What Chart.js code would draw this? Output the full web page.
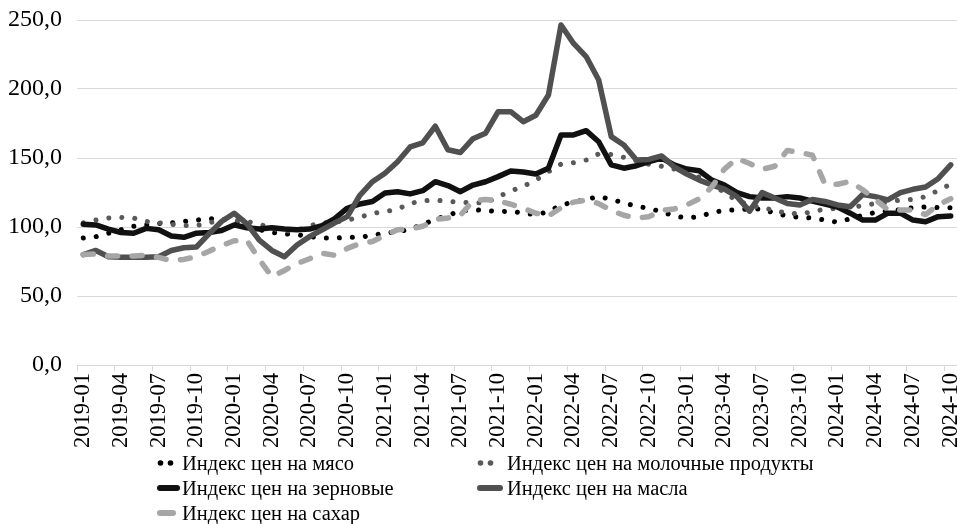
<!DOCTYPE html>
<html>
<head>
<meta charset="utf-8">
<script src="https://cdn.jsdelivr.net/npm/chart.js@4"></script>
<style>
  html, body { margin: 0; padding: 0; background: #fff; }
  body { width: 957px; height: 524px; overflow: hidden; position: relative; }
  #c { position: absolute; left: 0; top: 0; }
  .lg { position: absolute; font-family: "Liberation Serif", "Times New Roman", serif; font-size: 20.5px; color: #000; white-space: nowrap; line-height: 22px; }
  svg { position: absolute; left: 0; top: 0; }
</style>
</head>
<body>
<canvas id="c" width="957" height="455"></canvas>
<svg width="957" height="524" viewBox="0 0 957 524">
  <circle cx="160.5" cy="463" r="2.8" fill="#000"/>
  <circle cx="170.5" cy="463" r="2.8" fill="#000"/>
  <circle cx="480.5" cy="463" r="2.8" fill="#595959"/>
  <circle cx="490.5" cy="463" r="2.8" fill="#595959"/>
  <line x1="160" y1="488" x2="177" y2="488" stroke="#111" stroke-width="6" stroke-linecap="round"/>
  <line x1="480" y1="488" x2="500" y2="488" stroke="#505050" stroke-width="6" stroke-linecap="round"/>
  <line x1="160" y1="513" x2="173" y2="513" stroke="#a6a6a6" stroke-width="6" stroke-linecap="round"/>
</svg>
<div class="lg" style="left:182px; top:452px;">Индекс цен на мясо</div>
<div class="lg" style="left:507px; top:452px;">Индекс цен на молочные продукты</div>
<div class="lg" style="left:182px; top:477px;">Индекс цен на зерновые</div>
<div class="lg" style="left:507px; top:477px;">Индекс цен на масла</div>
<div class="lg" style="left:182px; top:502px;">Индекс цен на сахар</div>
<script>
const categories = [
  "2019-01","2019-02","2019-03","2019-04","2019-05","2019-06","2019-07","2019-08","2019-09","2019-10","2019-11","2019-12",
  "2020-01","2020-02","2020-03","2020-04","2020-05","2020-06","2020-07","2020-08","2020-09","2020-10","2020-11","2020-12",
  "2021-01","2021-02","2021-03","2021-04","2021-05","2021-06","2021-07","2021-08","2021-09","2021-10","2021-11","2021-12",
  "2022-01","2022-02","2022-03","2022-04","2022-05","2022-06","2022-07","2022-08","2022-09","2022-10","2022-11","2022-12",
  "2023-01","2023-02","2023-03","2023-04","2023-05","2023-06","2023-07","2023-08","2023-09","2023-10","2023-11","2023-12",
  "2024-01","2024-02","2024-03","2024-04","2024-05","2024-06","2024-07","2024-08","2024-09","2024-10"
];

const seriesNames = [
  "Индекс цен на мясо",
  "Индекс цен на молочные продукты",
  "Индекс цен на зерновые",
  "Индекс цен на масла",
  "Индекс цен на сахар"
];

const meat = [92, 93, 95.5, 98, 100.5, 101.5, 102.5, 103, 104, 105,
  106, 106, 104, 101, 98, 96, 95, 94.5, 93, 92,
  92, 92.5, 92.5, 94, 95.5, 96.5, 98.5, 102, 105.5, 108.5,
  111.5, 112.5, 112, 111, 111.5, 110, 109, 111, 116, 118,
  120, 122, 120, 117.5, 115, 113.5, 111, 108, 106.5, 107.5,
  110.5, 112, 112.5, 113, 113, 110, 108, 107, 106.5, 105,
  103.5, 106, 108.5, 110.5, 111.5, 112.5, 114, 114.5, 114, 114];

const dairy = [103, 105, 106.5, 107, 106.5, 104, 103, 102, 101, 101,
  103, 105.5, 105, 104, 102, 99, 97, 97.5, 101, 103,
  103.5, 105, 107, 110, 111, 113, 117, 119, 119.5, 118.5,
  118, 117.5, 117.5, 122, 126, 129.5, 134, 140, 145.5, 146.6,
  148.5, 153, 152.5, 150.5, 148, 145.5, 144, 142, 140, 136,
  131, 125, 119, 116, 114, 112, 110, 109.5, 111, 113,
  113.5, 114, 115.5, 117, 118, 119.5, 120, 122, 126.5, 131];

const cereals = [102, 101.5, 98.5, 96, 95.5, 99, 98, 93.5, 92.5, 95.5,
  96, 97.5, 101.5, 99.5, 98.5, 99.5, 98.5, 98, 98.5, 101,
  106, 113.6, 116.7, 118.5, 124.6, 125.6, 124, 126.3, 132.8, 130,
  125.6, 130.4, 132.8, 136.5, 140.6, 139.8, 138.4, 142.6, 166.7, 166.7,
  169.8, 161.8, 145, 142.6, 144.4, 147.3, 150, 145, 142, 140.8,
  134, 130.4, 124.9, 122, 121, 121, 122, 121, 118.8, 116.7,
  114.5, 110, 105, 105, 110, 110, 105, 103.8, 107.5, 108];

const oils = [80, 83, 78.5, 78, 78, 78, 78.5, 83, 85, 85.5,
  95, 104, 110, 102.5, 90.5, 83, 78.5, 87, 93, 98,
  103, 107.5, 123, 132.8, 139, 147.3, 158, 161, 173, 156,
  154, 164, 168, 183.6, 183.6, 176.3, 181, 195.6, 246.4, 233,
  223.5, 206.5, 165.5, 159.4, 148.5, 149, 151.5, 143.6, 138.4, 134,
  130.4, 127.5, 122, 111.5, 124.9, 121, 117, 116, 120, 118.5,
  116, 114.7, 123.6, 122, 119.6, 124.9, 127.3, 129, 135, 145];

const sugar = [80, 80.5, 79, 79, 79, 79.5, 78, 75.5, 76.5, 78.5,
  82.5, 86.5, 90, 90.5, 76.5, 64, 68.5, 73.5, 77, 81,
  79.5, 84.5, 88, 89.5, 94, 98, 98.5, 100.5, 105.5, 106.5,
  108.5, 119, 120, 119, 116.5, 113.5, 110, 108, 114, 118,
  119.5, 117, 112, 108.5, 106.5, 107.5, 112, 113, 116, 120.5,
  129, 142, 149.7, 146, 141.8, 144, 155.5, 154, 152, 131,
  131, 133, 127, 120, 112.5, 112.3, 112.3, 109, 116, 120.5];

const yTicks = [0, 50, 100, 150, 200, 250];
const yTickLabels = ["0,0", "50,0", "100,0", "150,0", "200,0", "250,0"];
const tickEvery = 3;

const dotDash = [0.01, 13];
const base = { fill: false, tension: 0, pointRadius: 0, pointHoverRadius: 0, borderCapStyle: 'round', borderJoinStyle: 'round' };
const serif = '"Liberation Serif", "Times New Roman", serif';

new Chart(document.getElementById('c'), {
  type: 'line',
  data: {
    labels: categories,
    datasets: [
      Object.assign({}, base, { label: seriesNames[0], data: meat, borderColor: '#000000', borderWidth: 5, borderDash: dotDash, order: 5 }),
      Object.assign({}, base, { label: seriesNames[1], data: dairy, borderColor: '#595959', borderWidth: 5, borderDash: dotDash, order: 4 }),
      Object.assign({}, base, { label: seriesNames[2], data: cereals, borderColor: '#111111', borderWidth: 5.5, order: 3 }),
      Object.assign({}, base, { label: seriesNames[3], data: oils, borderColor: '#505050', borderWidth: 5.5, order: 2 }),
      Object.assign({}, base, { label: seriesNames[4], data: sugar, borderColor: '#a6a6a6', borderWidth: 5.5, borderDash: [10, 14.5], order: 1 })
    ]
  },
  options: {
    responsive: false,
    animation: false,
    events: [],
    layout: { padding: { top: 20, right: 0, left: 0, bottom: 0 } },
    plugins: { legend: { display: false }, tooltip: { enabled: false } },
    scales: {
      x: {
        type: 'category',
        offset: true,
        grid: {
          display: true,
          offset: true,
          drawOnChartArea: false,
          drawTicks: true,
          tickLength: 6,
          color: (ctx) => (ctx.index % tickEvery === 0 ? '#d9d9d9' : 'rgba(0,0,0,0)'),
          lineWidth: 1
        },
        border: { display: true, color: '#d9d9d9', width: 1 },
        ticks: {
          autoSkip: false,
          maxRotation: 90,
          minRotation: 90,
          padding: 2,
          color: '#000',
          font: { family: serif, size: 22.5 },
          callback: (v, i) => (i % tickEvery === 0 ? categories[i] : '')
        },
        afterFit: (s) => { s.height = 90; s.paddingLeft = 0; s.paddingRight = 0; }
      },
      y: {
        min: 0,
        max: 250,
        afterBuildTicks: (s) => { s.ticks = yTicks.map(v => ({ value: v })); },
        grid: { color: '#d9d9d9', lineWidth: 1, drawTicks: false },
        border: { display: false },
        ticks: {
          padding: 15,
          color: '#000',
          font: { family: serif, size: 24 },
          callback: (v) => { const k = yTicks.indexOf(v); return k >= 0 ? yTickLabels[k] : ''; }
        },
        afterFit: (s) => { s.width = 77; s.paddingTop = 0; s.paddingBottom = 0; }
      }
    }
  }
});
</script>
</body>
</html>
